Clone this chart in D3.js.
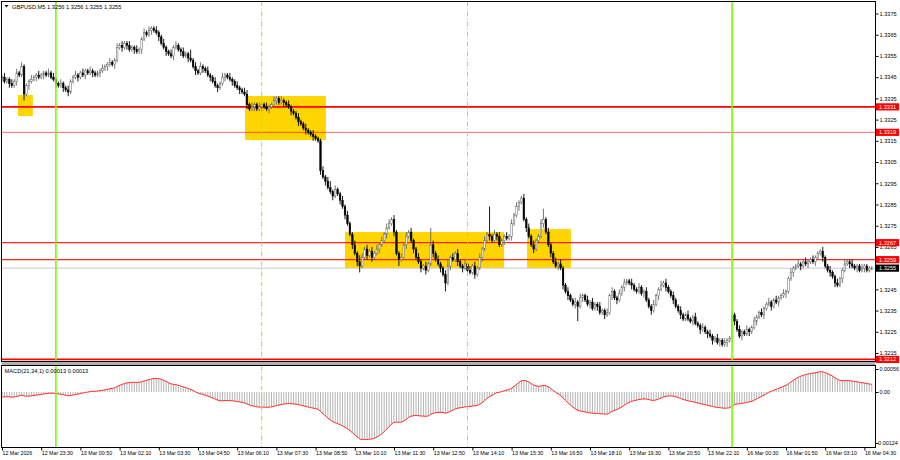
<!DOCTYPE html>
<html><head><meta charset="utf-8">
<script src="https://cdn.jsdelivr.net/npm/d3@7"></script>
<style>
body{margin:0;background:#fff}
svg{display:block}
text{font-family:"Liberation Sans",Arial,sans-serif}
</style>
</head><body>
<svg id="c" width="900" height="460"></svg>
<script>
// ---------------- DATA ----------------
const symbol = "GBPUSD,M5";
const lastQuote = ["1.3256", "1.3256", "1.3255", "1.3255"];
const macdLabelValues = ["0.00013", "0.00013"];
const basePrice = 1.3200;           // closes/wicks are in pips above this
const firstOpen = 145;
const closes = [
145,143,144,142,141,143,147,146,150,137,
141,143,144,145,146,145,146,147,146,147,
145,144,142,141,142,140,139,138,143,145,
146,145,147,146,148,147,148,147,146,147,
148,149,150,151,152,151,153,159,160,159,
161,160,158,159,158,157,158,163,166,165,
167,168,167,166,164,161,159,157,156,155,
159,160,158,157,155,156,154,153,150,148,
147,150,149,148,146,145,143,141,140,142,
145,146,145,144,143,141,140,139,138,137,
132,130,131,132,130,131,132,131,130,131,
132,134,135,133,134,133,132,131,129,128,
126,124,123,121,120,119,118,117,116,115,
101,98,96,93,91,89,92,90,87,84,
80,76,71,66,62,58,56,60,64,61,
63,60,62,64,66,68,71,74,76,78,
72,62,59,60,66,70,72,68,64,60,
58,55,56,54,57,66,62,59,57,55,
52,48,56,60,59,62,58,56,55,57,
54,53,56,52,55,60,64,68,71,70,
68,71,70,66,68,70,69,70,76,80,
84,86,88,78,74,70,66,64,68,70,
76,78,72,66,62,58,56,57,55,47,
44,42,40,38,39,37,41,42,40,38,
39,36,38,37,34,35,33,34,42,44,
41,40,43,46,48,49,48,47,45,44,
46,43,44,40,37,35,38,42,45,47,
48,46,44,42,40,37,35,33,31,33,
31,30,32,29,28,26,27,25,24,23,
21,22,20,21,19,20,21,22,
33,30,26,23,25,24,26,25,27,30,32,34,
33,36,38,39,37,40,39,41,42,43,
44,50,53,55,56,57,56,58,57,58,
59,58,60,62,63,60,56,54,53,51,
48,47,50,54,57,58,57,56,55,56,
54,55,56,54,55,55];
const wickUp = [
1,2,1,1,2,1,2,1,2,1, 1,1,2,1,1,2,1,1,1,2, 1,2,1,1,2,1,1,2,1,1, 2,1,1,2,1,1,2,1,1,1,
1,2,1,1,2,1,1,2,1,2, 1,1,2,1,1,2,1,1,2,1, 2,1,1,2,1,1,2,1,1,2, 1,2,1,1,2,1,1,4,1,2,
1,2,1,1,2,1,1,2,1,1, 2,1,1,2,1,1,2,1,1,2, 2,1,2,1,1,2,1,1,2,1, 1,2,1,1,2,1,1,2,1,1,
1,2,1,1,2,1,1,2,1,1, 1,2,1,2,3,1,2,1,1,2, 1,2,1,1,2,1,3,2,1,2, 1,2,1,2,1,2,1,2,2,1,
2,1,1,2,1,2,1,2,1,1, 2,1,1,2,1,8,2,1,2,1, 1,2,3,1,2,1,2,1,1,2, 1,2,1,2,1,2,1,2,1,13,
1,2,1,2,1,1,2,1,2,1, 2,1,1,2,1,2,1,2,1,1, 2,5,1,2,1,1,2,1,2,1, 1,2,1,1,2,1,2,1,1,2,
1,2,1,1,2,1,1,2,1,2, 1,1,2,1,2,1,1,2,1,1, 2,1,1,2,1,1,2,1,1,2, 1,2,1,1,2,1,1,2,1,1,
2,1,1,2,1,1,2,1,1,2, 1,1,2,1,1,2,1,1,
2,1,1,2,1,1,2,1,1,2,1,1, 2,1,1,2,1,1,2,1,1,2, 1,1,2,1,1,2,1,1,2,1,
1,2,1,1,1,2,1,1,2,1, 1,2,1,1,2,1,1,2,1,1, 1,2,1,1,1,1];
const wickDn = [
2,1,1,2,1,1,2,1,1,3, 1,2,1,1,2,1,1,2,1,1, 1,1,2,1,1,2,1,2,1,1, 1,2,1,1,2,1,1,2,1,1,
2,1,1,2,1,1,2,1,1,2, 1,2,1,1,2,1,1,2,1,1, 1,2,1,1,2,1,1,2,1,1, 2,1,1,2,1,1,2,1,1,2,
1,1,2,1,1,2,1,1,2,1, 1,2,1,1,2,1,1,2,1,1, 2,1,1,2,1,1,2,1,1,2, 1,1,2,1,1,2,1,1,2,1,
1,2,1,1,2,1,1,2,1,1, 2,1,2,1,1,2,1,1,2,1, 2,1,1,2,1,2,3,1,1,2, 1,2,1,1,2,1,1,2,1,1,
2,1,3,1,1,2,1,1,2,1, 1,2,1,2,1,1,2,1,1,2, 1,4,1,2,1,1,2,1,2,1, 2,1,1,2,1,1,2,1,1,2,
1,1,2,1,1,2,1,1,2,1, 1,2,1,1,2,1,1,2,1,1, 1,2,1,1,2,1,1,2,1,2, 1,2,1,1,2,7,1,2,1,1,
2,1,1,2,1,1,2,1,1,2, 1,2,1,1,2,1,1,2,1,1, 1,1,2,1,1,2,1,1,2,1, 1,2,1,1,2,1,1,2,1,1,
1,1,2,1,1,2,1,1,2,1, 2,1,1,2,1,1,2,1,
1,2,1,1,2,1,1,2,1,1,2,1, 1,2,1,1,2,1,1,2,1,1, 2,1,1,2,1,1,2,1,1,2,
1,1,2,1,1,2,1,1,2,1, 2,1,1,2,1,1,2,1,1,2, 1,1,2,1,1,1];

const timeTickBars = [0,16,32,48,64,80,96,112,128,144,160,176,192,208,224,240,256,272,288,304,320,336,352];
const timeTickLabels = ["12 Mar 2026","12 Mar 23:30","13 Mar 00:50","13 Mar 02:10","13 Mar 03:30","13 Mar 04:50",
  "13 Mar 06:10","13 Mar 07:30","13 Mar 08:50","13 Mar 10:10","13 Mar 11:30","13 Mar 12:50","13 Mar 14:10",
  "13 Mar 15:30","13 Mar 16:50","13 Mar 18:10","13 Mar 19:30","13 Mar 20:50","13 Mar 22:10","16 Mar 00:30",
  "16 Mar 01:50","16 Mar 03:10","16 Mar 04:30"];
const priceTicks = [1.3375,1.3365,1.3355,1.3345,1.3335,1.3325,1.3315,1.3305,1.3295,1.3285,1.3275,1.3265,1.3245,1.3235,1.3225,1.3215];
const levelPrices = [1.3331, 1.3319, 1.3267, 1.3259, 1.3212];
const currentPrice = 1.3255;
const daySeparatorBars = [22, 298];
const sessionBars = [106, 190];
const boxStartBar = [6.5, 99.2, 140, 214.3];
const boxEndBar   = [12.6, 132.2, 204.9, 232.2];
const boxTopPrice = [1.33366, 1.33361, 1.32720, 1.32734];
const boxBotPrice = [1.33267, 1.33154, 1.32551, 1.32551];
const macdFast = 21, macdSlow = 34, macdSignalPeriod = 1;
const emaFastSeed = 1.33455, emaSlowSeed = 1.33467;
const macdTicks = [0.00056, 0, -0.00124];
const macdTickLabels = ["0.00056", "0.00", "-0.00124"];

// ---------------- BUILD ----------------
const svg = d3.select("#c");
const P = v => basePrice + v / 10000;
const bars = closes.map((c, i) => {
  const o = i === 0 ? firstOpen : closes[i - 1];
  return { i, o: P(o), c: P(c), h: P(Math.max(o, c) + wickUp[i]), l: P(Math.min(o, c) - wickDn[i]) };
});

// MACD from closes
let ef = emaFastSeed, es = emaSlowSeed;
const af = 2 / (macdFast + 1), as = 2 / (macdSlow + 1);
const macd = bars.map(b => { ef += af * (b.c - ef); es += as * (b.c - es); return ef - es; });
const signal = macd.map((m, i) => d3.mean(macd.slice(Math.max(0, i - macdSignalPeriod + 1), i + 1)));

const L = 1.5, R = 875.5, T = 1.5, MB = 361.5, ST = 365.5, SB = 447.5;
const x = d3.scaleLinear().domain([0, closes.length - 1]).range([2, 2 + (closes.length - 1) * 2.45]);
const y = d3.scaleLinear().domain([1.3200, 1.3375]).range([384.85, 13.5]);
const ym = d3.scaleLinear().domain([-0.00124, 0.00056]).range([443, 369]);

svg.append("rect").attr("width", 900).attr("height", 460).attr("fill", "#fff");
const defs = svg.append("defs");
defs.append("clipPath").attr("id", "cm").append("rect").attr("x", L).attr("y", T).attr("width", R - L).attr("height", MB - T);
defs.append("clipPath").attr("id", "cs").append("rect").attr("x", L).attr("y", ST).attr("width", R - L).attr("height", SB - ST);

const gm = svg.append("g").attr("clip-path", "url(#cm)");
// yellow boxes
gm.selectAll("rect.box").data(boxStartBar).join("rect").attr("class", "box")
  .attr("x", (d, k) => x(d)).attr("width", (d, k) => x(boxEndBar[k]) - x(d))
  .attr("y", (d, k) => y(boxTopPrice[k])).attr("height", (d, k) => y(boxBotPrice[k]) - y(boxTopPrice[k]))
  .attr("fill", "#ffd500");
// current price line
gm.append("line").attr("x1", L).attr("x2", R).attr("y1", y(currentPrice)).attr("y2", y(currentPrice))
  .attr("stroke", "#c8c8c8").attr("stroke-width", 1);
// level lines
const lvlW = [1.6, 1, 1.2, 1.2, 1.6], lvlOp = [1, 0.6, 0.85, 0.85, 1];
gm.selectAll("line.lvl").data(levelPrices).join("line").attr("class", "lvl")
  .attr("x1", L).attr("x2", R).attr("y1", d => y(d)).attr("y2", d => y(d))
  .attr("stroke", "#ff0000").attr("stroke-width", (d, k) => lvlW[k]).attr("stroke-opacity", (d, k) => lvlOp[k]);

// candles
const cg = gm.append("g");
cg.selectAll("line.w").data(bars).join("line").attr("class", "w")
  .attr("x1", d => x(d.i)).attr("x2", d => x(d.i)).attr("y1", d => y(d.h)).attr("y2", d => y(d.l))
  .attr("stroke", d => d.c >= d.o ? "#666" : "#000").attr("stroke-width", 0.9);
cg.selectAll("rect.b").data(bars).join("rect").attr("class", "b")
  .attr("x", d => x(d.i) - 0.8).attr("width", 1.6)
  .attr("y", d => y(Math.max(d.o, d.c))).attr("height", d => Math.max(0.8, Math.abs(y(d.o) - y(d.c))))
  .attr("fill", d => d.c >= d.o ? "#ffffff" : "#000").attr("stroke", d => d.c >= d.o ? "#666" : "#000")
  .attr("stroke-width", 0.5);

// MACD panel
const gs = svg.append("g").attr("clip-path", "url(#cs)");
gs.selectAll("line.h").data(macd).join("line").attr("class", "h")
  .attr("x1", (d, i) => x(i)).attr("x2", (d, i) => x(i)).attr("y1", ym(0)).attr("y2", d => ym(d))
  .attr("stroke", "#b4b4b4").attr("stroke-width", 1);
gs.append("path").datum(signal).attr("fill", "none").attr("stroke", "#ff2a2a").attr("stroke-width", 1)
  .attr("d", d3.line().x((d, i) => x(i)).y(d => ym(d)));

// vertical separators (both panels)
const vg = svg.append("g");
[[T, MB], [ST, SB]].forEach(([a, b]) => {
  vg.selectAll(null).data(daySeparatorBars).join("line")
    .attr("x1", d => x(d)).attr("x2", d => x(d)).attr("y1", a).attr("y2", b)
    .attr("stroke", "#7cfc00").attr("stroke-width", 1.6);
  vg.selectAll(null).data(sessionBars).join("line")
    .attr("x1", d => x(d)).attr("x2", d => x(d)).attr("y1", a).attr("y2", b)
    .attr("stroke", "#93e84a").attr("stroke-width", 1).attr("stroke-dasharray", "5,2,1,2");
});

// frames
svg.append("rect").attr("x", L).attr("y", MB + 0.5).attr("width", R - L).attr("height", ST - MB - 1).attr("fill", "#b0b0b0");
svg.append("rect").attr("x", L).attr("y", T).attr("width", R - L).attr("height", MB - T).attr("fill", "none").attr("stroke", "#000").attr("stroke-width", 1);
svg.append("rect").attr("x", L).attr("y", ST).attr("width", R - L).attr("height", SB - ST).attr("fill", "none").attr("stroke", "#000").attr("stroke-width", 1);

// price axis
const ya = svg.append("g").attr("transform", `translate(${R},0)`)
  .call(d3.axisRight(y).tickValues(priceTicks).tickFormat(d3.format(".4f")).tickSize(3).tickPadding(1));
ya.select(".domain").remove();
ya.selectAll("text").attr("font-size", 5.6).attr("fill", "#000").attr("font-family", "Liberation Sans, Arial, sans-serif");
ya.selectAll("line").attr("stroke", "#000");

// macd axis
const ma = svg.append("g").attr("transform", `translate(${R},0)`)
  .call(d3.axisRight(ym).tickValues(macdTicks).tickFormat((d, k) => macdTickLabels[k]).tickSize(3).tickPadding(1));
ma.select(".domain").remove();
ma.selectAll("text").attr("font-size", 5.4).attr("fill", "#000").attr("font-family", "Liberation Sans, Arial, sans-serif")
  .attr("dx", d => d < 0 ? -3 : 0);
ma.selectAll("line").attr("stroke", "#000");

// time axis
const xa = svg.append("g").attr("transform", `translate(0,${SB})`)
  .call(d3.axisBottom(x).tickValues(timeTickBars).tickFormat((d, k) => timeTickLabels[k]).tickSize(3).tickPadding(1));
xa.select(".domain").remove();
xa.selectAll("text").attr("font-size", 5.3).attr("text-anchor", "start").attr("fill", "#000")
  .attr("font-family", "Liberation Sans, Arial, sans-serif");
xa.selectAll("line").attr("stroke", "#000");

// price tags
const tags = levelPrices.map(p => ({ p, c: "#ff0000" })).concat([{ p: currentPrice, c: "#000" }]);
const tg = svg.append("g");
tg.selectAll("rect").data(tags).join("rect")
  .attr("x", R + 0.5).attr("width", 23).attr("y", d => y(d.p) - 3.6).attr("height", 7.2).attr("fill", d => d.c);
tg.selectAll("text").data(tags).join("text")
  .attr("x", R + 3.5).attr("y", d => y(d.p) + 2).attr("font-size", 5.6).attr("fill", "#fff")
  .text(d => d3.format(".4f")(d.p));

// title
svg.append("path").attr("d", "M4.5,5 L8.5,5 L6.5,7.5 Z").attr("fill", "#000");
svg.append("text").attr("x", 12).attr("y", 8.5).attr("font-size", 5.7).attr("fill", "#000")
  .text(symbol + "  " + lastQuote.join(" "));
svg.append("text").attr("x", 4.5).attr("y", 373).attr("font-size", 5.7).attr("fill", "#000")
  .text(`MACD(${macdFast},${macdSlow},${macdSignalPeriod}) ${macdLabelValues.join(" ")}`);
</script>
</body></html>
